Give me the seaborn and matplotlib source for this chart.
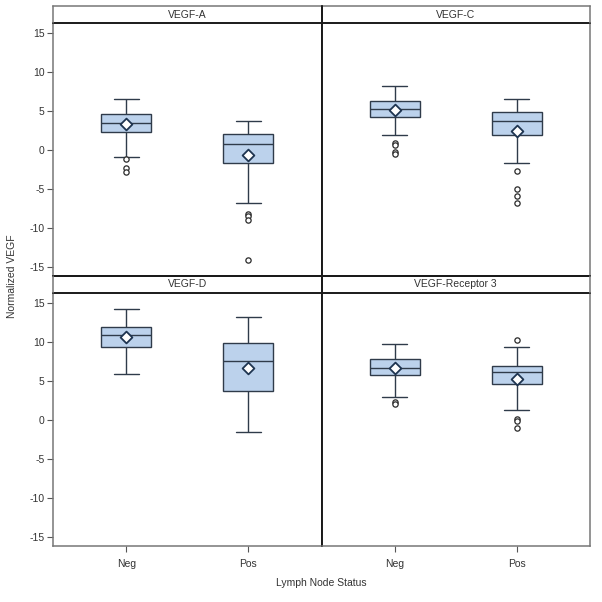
import numpy as np
import pandas as pd
import matplotlib
matplotlib.use("Agg")
import matplotlib.pyplot as plt
import seaborn as sns

# ---------------- data ----------------
markers = ["VEGF-A", "VEGF-C", "VEGF-D", "VEGF-Receptor 3"]
statuses = ["Neg", "Pos"]

# order: (marker, status) pairs -> A-Neg, A-Pos, C-Neg, C-Pos, D-Neg, D-Pos, R3-Neg, R3-Pos
whisker_low = [-0.85, -6.8, 1.97, -1.63, 5.96, -1.5, 2.9, 1.33]
q1 = [2.36, -1.63, 4.2, 1.97, 9.34, 3.73, 5.83, 4.59]
median = [3.43, 0.77, 5.31, 3.69, 10.93, 7.59, 6.73, 6.17]
q3 = [4.59, 2.06, 6.26, 4.89, 12.0, 9.94, 7.84, 6.9]
whisker_high = [6.5, 3.69, 8.27, 6.51, 14.27, 13.2, 9.77, 9.43]
means = [3.34, -0.64, 5.19, 2.44, 10.63, 6.64, 6.64, 5.23]
outliers = [
    [-1.2, -2.36, -2.79],
    [-8.14, -8.49, -9.0, -14.06],
    [0.94, 0.6, -0.21, -0.56],
    [-2.7, -4.93, -5.87, -6.77],
    [],
    [],
    [2.27, 2.0],
    [10.29, 0.17, -0.09, -1.07],
]
yticks = [-15, -10, -5, 0, 5, 10, 15]

# ---------------- tables ----------------
groups = [(m, s) for m in markers for s in statuses]
box_rows, out_rows, mean_rows = [], [], []
for i, (m, s) in enumerate(groups):
    for v in (whisker_low[i], q1[i], median[i], q3[i], whisker_high[i]):
        box_rows.append({"marker": m, "status": s, "value": v})
    for v in outliers[i]:
        out_rows.append({"marker": m, "status": s, "value": v})
    mean_rows.append({"marker": m, "status": s, "value": means[i]})
box_df = pd.DataFrame(box_rows)
out_df = pd.DataFrame(out_rows)
mean_df = pd.DataFrame(mean_rows)

# ---------------- style ----------------
sns.set_theme(style="white")
plt.rcParams["font.family"] = ["Liberation Sans", "DejaVu Sans"]
plt.rcParams["axes.unicode_minus"] = False
FS = 7.5
box_fill = "#BCD2EC"
line_col = "#2F3B4A"
frame_gray = "#777777"
frame_dark = "#1a1a1a"

fig, axes = plt.subplots(2, 2, figsize=(6.02, 6.02), dpi=100, sharex=True, sharey=True)
ax_h = 253.0
strip_h = 17.0 / ax_h
fig.subplots_adjust(left=53 / 602, right=590 / 602, top=1 - 23 / 602,
                    bottom=1 - 546 / 602, wspace=0, hspace=strip_h)

for k, m in enumerate(markers):
    ax = axes.flat[k]
    r, c = divmod(k, 2)
    sns.boxplot(data=box_df[box_df.marker == m], x="status", y="value", order=statuses,
                whis=(0, 100), width=0.41, color=box_fill, saturation=1,
                linecolor=line_col, linewidth=1.0, showfliers=False, ax=ax)
    sub_out = out_df[out_df.marker == m]
    if len(sub_out):
        sns.stripplot(data=sub_out, x="status", y="value", order=statuses, jitter=False,
                      marker="o", color="white", edgecolor="#2a2a2a", linewidth=0.9,
                      size=3.8, ax=ax, zorder=5)
    sns.stripplot(data=mean_df[mean_df.marker == m], x="status", y="value", order=statuses,
                  jitter=False, marker="D", color="white", edgecolor="#1E3450",
                  linewidth=1.3, size=6, ax=ax, zorder=6)

    ax.set_xlim(-0.6, 1.6)
    ax.set_ylim(-16.15, 16.3)
    ax.set_yticks(yticks)
    ax.set_xlabel("")
    ax.set_ylabel("")
    ax.grid(False)
    ax.set_facecolor("white")

    # spines
    for sp in ax.spines.values():
        sp.set_visible(True)
        sp.set_color(frame_dark)
        sp.set_linewidth(1.4)
    if c == 0:
        ax.spines["left"].set_color(frame_gray)
        ax.spines["left"].set_linewidth(1.1)
    if c == 1:
        ax.spines["right"].set_color(frame_gray)
        ax.spines["right"].set_linewidth(1.1)
    if r == 1:
        ax.spines["bottom"].set_color(frame_gray)
        ax.spines["bottom"].set_linewidth(1.1)

    # ticks
    ax.tick_params(axis="y", which="both", left=(c == 0), right=False,
                   labelleft=(c == 0), length=4.5, width=0.8, color="#555555",
                   labelsize=FS, labelcolor="#333333", pad=1.5, direction="out")
    ax.tick_params(axis="x", which="both", bottom=(r == 1), top=False,
                   labelbottom=(r == 1), length=4.5, width=0.8, color="#555555",
                   labelsize=FS, labelcolor="#333333", pad=5, direction="out")

    # strip header (frame lines + title)
    top_col, top_lw = (frame_gray, 1.1) if r == 0 else (frame_dark, 1.4)
    ax.plot([0, 1], [1 + strip_h, 1 + strip_h], transform=ax.transAxes, clip_on=False,
            color=top_col, lw=top_lw, zorder=11, solid_capstyle="projecting")
    lcol, llw = (frame_gray, 1.1) if c == 0 else (frame_dark, 1.4)
    rcol, rlw = (frame_gray, 1.1) if c == 1 else (frame_dark, 1.4)
    ax.plot([0, 0], [1, 1 + strip_h], transform=ax.transAxes, clip_on=False,
            color=lcol, lw=llw, zorder=11)
    ax.plot([1, 1], [1, 1 + strip_h], transform=ax.transAxes, clip_on=False,
            color=rcol, lw=rlw, zorder=11)
    ax.text(0.5, 1 + strip_h / 2, m, transform=ax.transAxes, ha="center", va="center",
            fontsize=FS, color="#333333", zorder=12)

fig.text(12 / 602, 1 - 276.5 / 602, "Normalized VEGF", rotation=90, ha="center",
         va="center", fontsize=FS, color="#333333")
fig.text(321.5 / 602, 1 - 583 / 602, "Lymph Node Status", ha="center", va="center",
         fontsize=FS, color="#333333")

fig.savefig("out.png", dpi=100)
